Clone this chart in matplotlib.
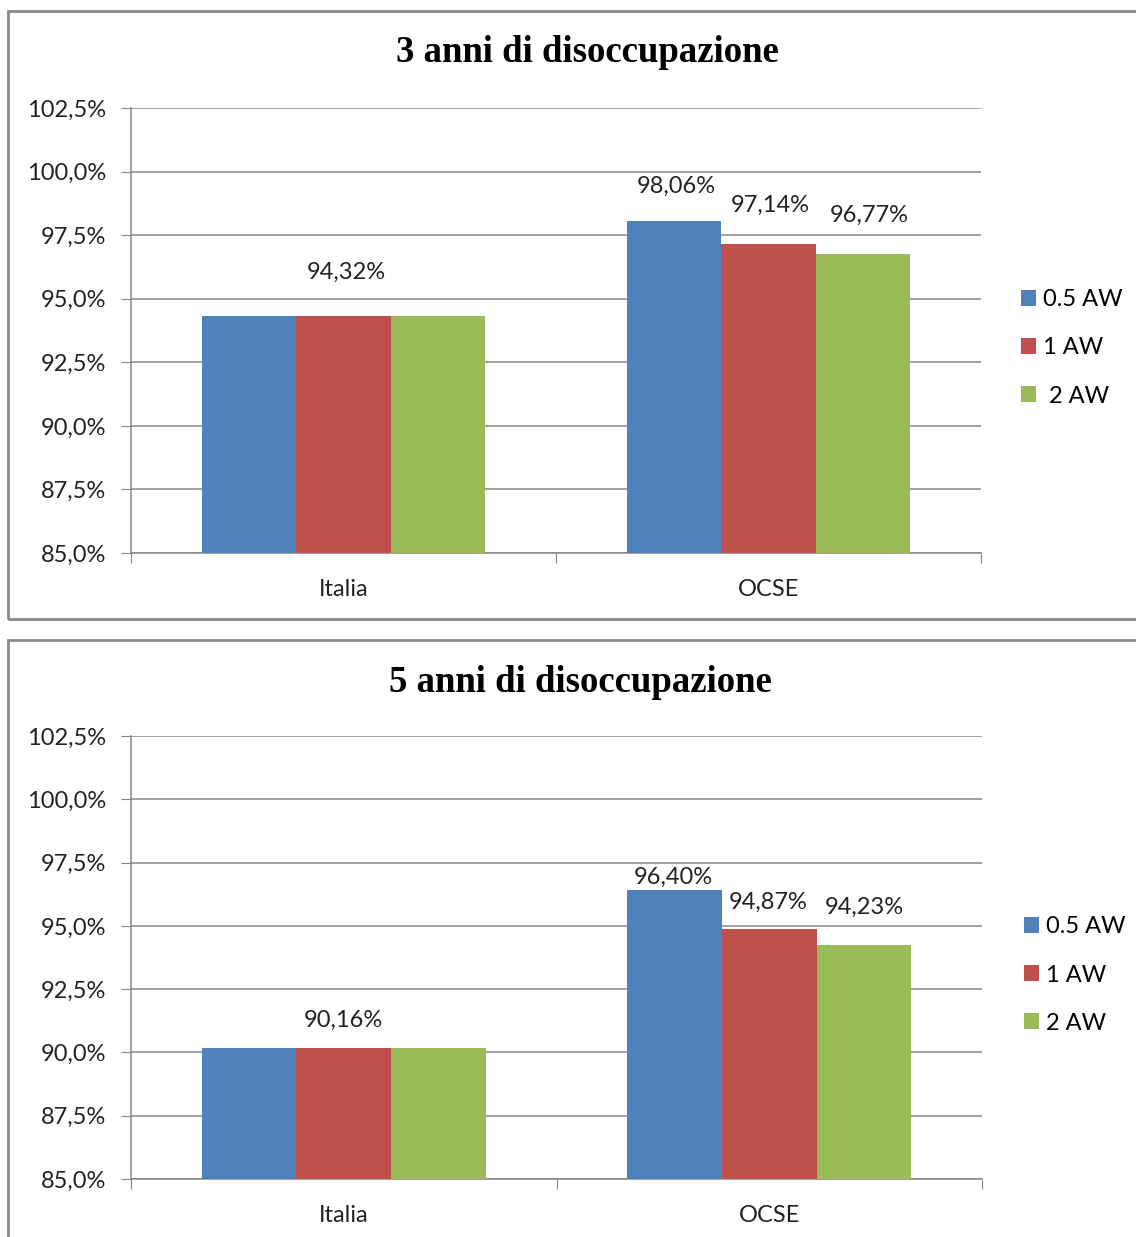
import matplotlib
matplotlib.use("Agg")
import matplotlib.pyplot as plt
from matplotlib.patches import Rectangle, Patch
import numpy as np

categories = ["Italia", "OCSE"]
series_names_3 = ["0.5 AW", "1 AW", " 2 AW"]
series_names_5 = ["0.5 AW", "1 AW", "2 AW"]
colors = ["#4F81BD", "#C0504D", "#9BBB59"]

# values in percent, one list per series: [Italia, OCSE]
anni3_05 = [94.32, 98.06]
anni3_1 = [94.32, 97.14]
anni3_2 = [94.32, 96.77]

anni5_05 = [90.16, 96.40]
anni5_1 = [90.16, 94.87]
anni5_2 = [90.16, 94.23]

yticks = [85.0, 87.5, 90.0, 92.5, 95.0, 97.5, 100.0, 102.5]

W, H = 1136, 1237
fig = plt.figure(figsize=(W / 100, H / 100), dpi=100)
plt.rcParams['font.family'] = ['Lato', 'DejaVu Sans']

grid_c = "#868686"
fs = 17


def fmt(v):
    return f"{v:.2f}%".replace(".", ",")


def draw_panel(rect, series, names, title, title_xy, label_offsets, legend_xy):
    ax = fig.add_axes(rect)
    x = np.arange(len(categories))
    w = 0.667 / 3
    for i, (vals, name) in enumerate(zip(series, names)):
        ax.bar(x + (i - 1) * w, vals, width=w, color=colors[i], label=name,
               zorder=3, linewidth=0)
    ax.set_ylim(85, 102.5)
    ax.set_xlim(-0.5, 1.5)
    ax.set_yticks(yticks)
    ax.set_yticklabels([f"{t:.1f}%".replace(".", ",") for t in yticks], fontsize=fs)
    ax.yaxis.grid(True, color=grid_c, linewidth=1.1, zorder=0)
    ax.set_axisbelow(True)
    ax.tick_params(axis="y", length=7, color=grid_c, pad=11, labelcolor="#222222")
    # category ticks at boundaries, labels at centers
    ax.set_xticks([-0.5, 0.5, 1.5])
    ax.set_xticklabels([])
    ax.set_xticks(x, minor=True)
    ax.set_xticklabels(categories, minor=True, fontsize=fs)
    ax.tick_params(axis="x", which="major", length=7, color=grid_c)
    ax.tick_params(axis="x", which="minor", length=0, pad=19, labelcolor="#222222")
    for s in ["top", "right"]:
        ax.spines[s].set_visible(False)
    for s in ["left", "bottom"]:
        ax.spines[s].set_color(grid_c)
        ax.spines[s].set_linewidth(1.1)

    # data labels: Italia shares one label, OCSE gets one per series
    labels = [(x[0], series[1][0], label_offsets[0])]
    for i in range(3):
        labels.append((x[1] + (i - 1) * w, series[i][1], label_offsets[i + 1]))
    for xi, v, (dx, dy) in labels:
        ax.annotate(fmt(v), (xi, v), xytext=(dx, dy), textcoords="offset pixels",
                    ha="center", va="center", fontsize=fs, color="#222222")

    fig.text(title_xy[0] / W, 1 - title_xy[1] / H, title, ha="center", va="center",
             fontsize=26.5, fontweight="bold", family="Liberation Serif")

    handles = [Patch(facecolor=c, edgecolor="none") for c in colors]
    fig.legend(handles, names, loc="center left",
               bbox_to_anchor=(legend_xy[0] / W, 1 - legend_xy[1] / H),
               frameon=False, fontsize=fs, handlelength=0.65, handleheight=0.65,
               handletextpad=0.3, labelspacing=1.15, borderaxespad=0, borderpad=0)
    return ax


# panel frames
fig.patches.append(Rectangle((8 / W, 1 - 619 / H), 1.0, (619 - 11) / H,
                             transform=fig.transFigure, fill=False,
                             edgecolor="#898989", linewidth=2))
fig.patches.append(Rectangle((8 / W, -0.05), 1.0, 0.05 + (1237 - 640) / H,
                             transform=fig.transFigure, fill=False,
                             edgecolor="#898989", linewidth=2))

draw_panel([131 / W, 1 - 553 / H, 850 / W, 445 / H],
           [anni3_05, anni3_1, anni3_2], series_names_3,
           "3 anni di disoccupazione", (587, 53),
           [(3, 44), (2, 35), (2, 39), (6, 38)], (1021, 348))

draw_panel([131 / W, 1 - 1179 / H, 851 / W, 443 / H],
           [anni5_05, anni5_1, anni5_2], series_names_5,
           "5 anni di disoccupazione", (580, 683),
           [(0, 28), (-1, 13), (-1, 27), (0, 38)], (1024, 975))

fig.savefig("out.png", dpi=100)
